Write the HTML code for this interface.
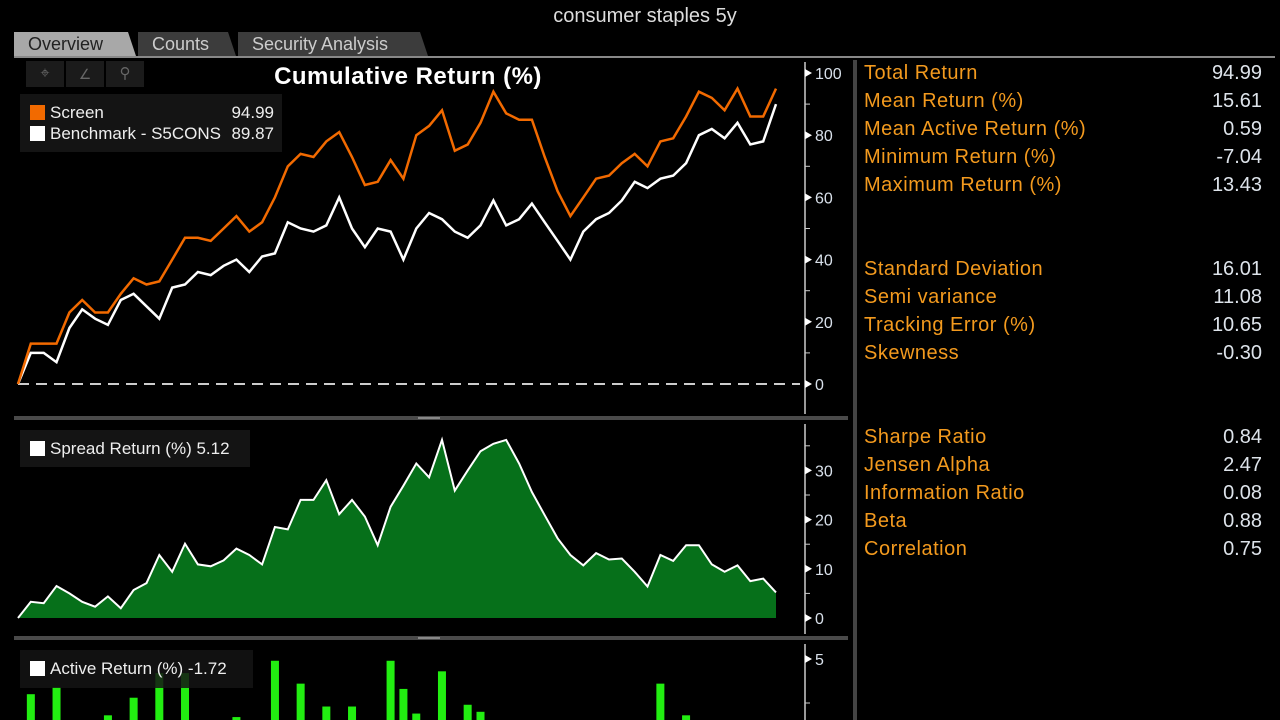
<!DOCTYPE html>
<html><head><meta charset="utf-8">
<style>
html,body{margin:0;padding:0;background:#000;width:1280px;height:720px;overflow:hidden;font-family:"Liberation Sans",sans-serif;}
#root{position:relative;width:1280px;height:720px;overflow:hidden;}
.abs{position:absolute;}
.tab{position:absolute;top:32px;height:24px;font-size:18px;line-height:24px;padding-left:14px;box-sizing:border-box;clip-path:polygon(0 0,calc(100% - 8px) 0,100% 100%,0 100%);}
.stat{position:absolute;left:864px;width:398px;font-size:20px;height:26px;line-height:26px;}
.stat .l{color:#f39a1e;letter-spacing:0.5px;}
.stat .v{position:absolute;right:0;top:0;color:#dde3ea;}
</style></head><body>
<div id="root">
<div class="abs" style="left:0;width:1290px;top:5px;text-align:center;color:#ddd;font-size:20px;">consumer staples 5y</div>
<div class="tab" style="left:14px;width:122px;background:#a8a8a8;color:#222;">Overview</div>
<div class="tab" style="left:138px;width:98px;background:#3c3c3c;color:#ccc;">Counts</div>
<div class="tab" style="left:238px;width:190px;background:#3c3c3c;color:#ccc;">Security Analysis</div>
<div class="abs" style="left:14px;top:56px;width:1261px;height:2px;background:#888;"></div>

<svg class="abs" style="left:0;top:0;overflow:hidden" width="1280" height="720" id="svg"></svg>

<div class="abs" style="left:26px;top:61px;width:118px;height:26px;">
 <div class="abs" style="left:0;top:0;width:38px;height:26px;background:#1b1b1b;color:#666;text-align:center;font-size:16px;line-height:26px;">⌖</div>
 <div class="abs" style="left:40px;top:0;width:38px;height:26px;background:#1b1b1b;color:#666;text-align:center;font-size:14px;line-height:26px;">∠</div>
 <div class="abs" style="left:80px;top:0;width:38px;height:26px;background:#1b1b1b;color:#666;text-align:center;font-size:15px;line-height:26px;">⚲</div>
</div>
<div class="abs" style="left:200px;width:416px;top:63px;text-align:center;color:#fff;font-weight:bold;font-size:24px;letter-spacing:0.5px;">Cumulative Return (%)</div>

<div class="abs" style="left:20px;top:94px;width:262px;height:58px;background:#141414;color:#eee;font-size:17px;">
 <div class="abs" style="left:10px;top:9px;width:244px;"><span style="display:inline-block;width:15px;height:15px;background:#f26a00;vertical-align:-2px;margin-right:5px"></span>Screen<span style="position:absolute;right:0">94.99</span></div>
 <div class="abs" style="left:10px;top:30px;width:244px;"><span style="display:inline-block;width:15px;height:15px;background:#fff;vertical-align:-2px;margin-right:5px"></span>Benchmark - S5CONS<span style="position:absolute;right:0">89.87</span></div>
</div>
<div class="abs" style="left:20px;top:430px;width:230px;height:37px;background:#141414;color:#eee;font-size:17px;line-height:37px;padding-left:10px;box-sizing:border-box;"><span style="display:inline-block;width:15px;height:15px;background:#fff;vertical-align:-2px;margin-right:5px"></span>Spread Return (%) 5.12</div>
<div class="abs" style="left:20px;top:650px;width:233px;height:38px;background:rgba(20,20,20,0.85);color:#eee;font-size:17px;line-height:38px;padding-left:10px;box-sizing:border-box;"><span style="display:inline-block;width:15px;height:15px;background:#fff;vertical-align:-2px;margin-right:5px"></span>Active Return (%) -1.72</div>

<div class="abs" style="left:853px;top:60px;width:4px;height:660px;background:#444;"></div>

<div class="stat" style="top:60px"><span class="l">Total Return</span><span class="v">94.99</span></div>
<div class="stat" style="top:88px"><span class="l">Mean Return (%)</span><span class="v">15.61</span></div>
<div class="stat" style="top:116px"><span class="l">Mean Active Return (%)</span><span class="v">0.59</span></div>
<div class="stat" style="top:144px"><span class="l">Minimum Return (%)</span><span class="v">-7.04</span></div>
<div class="stat" style="top:172px"><span class="l">Maximum Return (%)</span><span class="v">13.43</span></div>
<div class="stat" style="top:256px"><span class="l">Standard Deviation</span><span class="v">16.01</span></div>
<div class="stat" style="top:284px"><span class="l">Semi variance</span><span class="v">11.08</span></div>
<div class="stat" style="top:312px"><span class="l">Tracking Error (%)</span><span class="v">10.65</span></div>
<div class="stat" style="top:340px"><span class="l">Skewness</span><span class="v">-0.30</span></div>
<div class="stat" style="top:424px"><span class="l">Sharpe Ratio</span><span class="v">0.84</span></div>
<div class="stat" style="top:452px"><span class="l">Jensen Alpha</span><span class="v">2.47</span></div>
<div class="stat" style="top:480px"><span class="l">Information Ratio</span><span class="v">0.08</span></div>
<div class="stat" style="top:508px"><span class="l">Beta</span><span class="v">0.88</span></div>
<div class="stat" style="top:536px"><span class="l">Correlation</span><span class="v">0.75</span></div>
</div>
<script>
const screenValues=[0,13,13,13,23,27,23,23,29,34,32,33,40,47,47,46,50,54,49,52,60,70,74,73,78,81,73,64,65,72,66,80,83,88,75,77,84,94,87,85,85,73,62,54,60,66,67,71,74,70,78,79,86,94,92,88,95,86,86,95];
const benchValues=[0,10,10,7,18,24,21,19,27,29,25,21,31,32,36,35,38,40,36,41,42,52,50,49,51,60,50,44,50,49,40,50,55,53,49,47,51,59,51,53,58,52,46,40,49,53,55,59,65,63,66,67,71,80,82,79,84,77,78,90];
const spreadValues=[0,3.3,3,6.5,5,3.3,2.3,4.4,2,5.7,7.1,12.8,9.4,15.1,10.9,10.5,11.7,14.1,12.8,10.9,18.5,18,24,24,28,21.1,24,20.6,14.8,22.6,26.9,31.4,28.6,36.2,25.9,30,33.9,35.4,36.2,31.4,25.6,20.9,16.2,12.8,10.7,13.2,11.9,12.1,9.4,6.4,12.8,11.6,14.8,14.8,10.9,9.4,10.7,7.5,8,5.2];
const activeValues=[0.8,3,-1,3.4,0.5,-1.5,1.2,1.8,-2,2.8,-0.6,4.2,-1.3,4.2,0.9,-2.5,-1.1,1.7,-3,1.2,4.9,-1.6,3.6,-0.8,2.3,-1.4,2.3,-2.2,1,4.9,3.3,1.9,-4,4.3,-1.1,2.4,2,-7,-1.5,-0.4,-3.5,-6,-4,-2.1,0.6,-1,0.4,-1.2,-2,-1.5,3.6,-0.7,1.8,-1.8,0.9,-1.4,-0.3,-1.9,0.6,-1.72];
const cumTicks=[0,20,40,60,80,100];
const spreadTicks=[0,10,20,30];
const activeTicks=[5];

const NS='http://www.w3.org/2000/svg';
const svg=document.getElementById('svg');
function mk(tag,attrs,name){const e=document.createElementNS(NS,tag);for(const k in attrs)e.setAttribute(k,attrs[k]);


svg.appendChild(e);return e;}
const X0=18,X1=776,N=screenValues.length;
function xAt(i){return X0+(X1-X0)*i/(N-1);}
function yCum(v){return 384-v*3.11;}
function ySpr(v){return 618-v*4.92;}
function yAct(v){return 747-v*17.6;}

mk('rect',{x:14,y:416,width:834,height:4,fill:'#4a4a4a'},'divider-top');
mk('rect',{x:14,y:636,width:834,height:4,fill:'#4a4a4a'},'divider-bottom');
mk('rect',{x:418,y:417,width:22,height:2,fill:'#888'},'divider-handle');
mk('rect',{x:418,y:637,width:22,height:2,fill:'#888'},'divider-handle');

function axis(top,bot,ticks,yf,minorStep,name){
 mk('line',{x1:805,y1:top,x2:805,y2:bot,stroke:'#ccc','stroke-width':1.5},name+'-line');
 ticks.forEach(t=>{const y=yf(t);
  mk('path',{d:`M805 ${y-4}L812 ${y}L805 ${y+4}Z`,fill:'#fff'},name+'-tick');
  const tx=mk('text',{x:815,y:y+6,fill:'#d8e0ea','font-size':16,'font-family':'Liberation Sans, sans-serif'},name+'-label');tx.textContent=t;
  const ym=yf(t+minorStep);if(ym>top&&ym<bot)mk('line',{x1:805,y1:ym,x2:810,y2:ym,stroke:'#ccc'},name+'-minor-tick');
 });
}
axis(62,414,cumTicks,yCum,10,'cumulative-y-axis');
axis(424,634,spreadTicks,ySpr,5,'spread-y-axis');
axis(644,720,activeTicks,yAct,-2.5,'active-y-axis');

mk('line',{x1:18,y1:yCum(0),x2:800,y2:yCum(0),stroke:'#ccc','stroke-width':2,'stroke-dasharray':'11,7'},'zero-line');

function pts(arr,yf){return arr.map((v,i)=>xAt(i).toFixed(1)+','+yf(v).toFixed(1)).join(' ');}
mk('polyline',{points:pts(benchValues,yCum),fill:'none',stroke:'#fff','stroke-width':2.5},'benchmark-line');
mk('polyline',{points:pts(screenValues,yCum),fill:'none',stroke:'#f26a00','stroke-width':2.5},'screen-line');

const sp=pts(spreadValues,ySpr);
mk('polygon',{points:`${xAt(0)},${ySpr(0)} ${sp} ${xAt(N-1)},${ySpr(0)}`,fill:'#06701a'},'spread-area');
mk('polyline',{points:sp,fill:'none',stroke:'#fff','stroke-width':2},'spread-line');

activeValues.forEach((v,i)=>{if(v<=0)return;const y0=Math.min(yAct(0),720),y=yAct(v);
 if(y>=720)return;
 mk('rect',{x:xAt(i)-4,y:y,width:8,height:y0-y,fill:'#22ee11'},'active-bar');
});
</script>
</body></html>
